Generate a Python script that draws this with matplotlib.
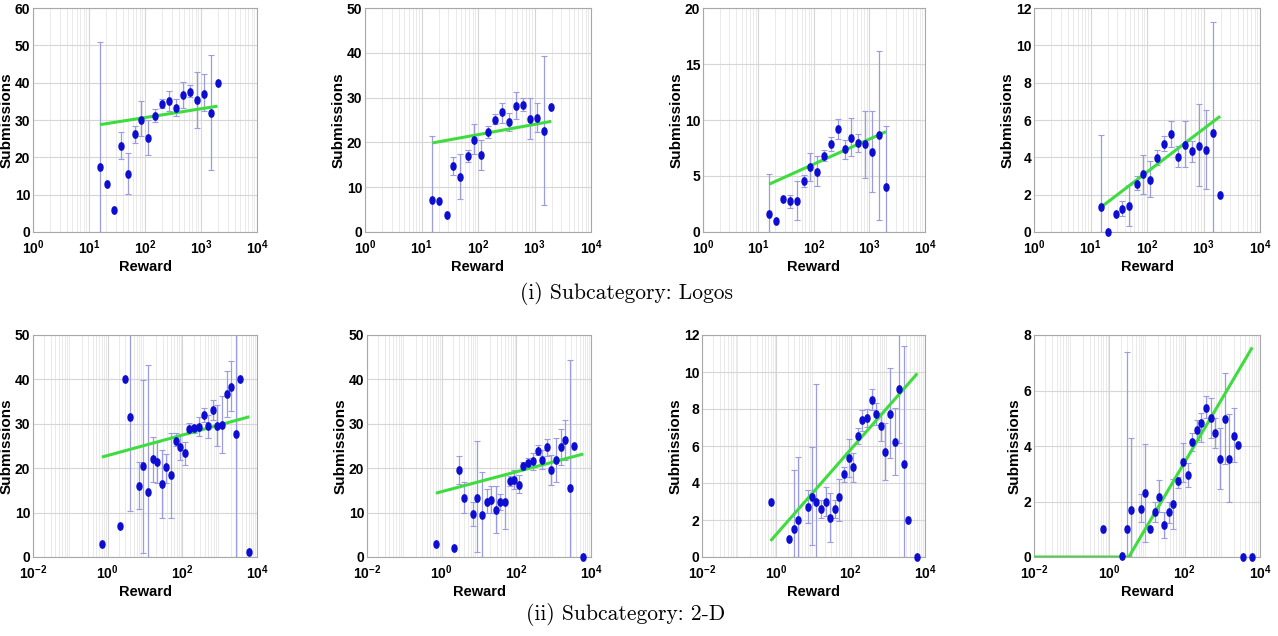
import numpy as np
import matplotlib
matplotlib.use('Agg')
import matplotlib.pyplot as plt
from matplotlib.path import Path
from matplotlib.ticker import FuncFormatter, LogLocator, NullFormatter, FixedLocator

nan = np.nan

# ---------------- data ----------------
reward_logos = [15.6, 20.8, 27.9, 36.6, 49.0, 65.3, 85.9, 115, 153, 204, 269, 359,
                473, 631, 841, 1109, 1479, 1977]
reward_2d = [0.70, 2.17, 2.90, 3.87, 6.90, 9.02, 12.0, 16.1, 21.4, 28.6, 37.4, 49.9,
             66.7, 88.9, 119, 155, 207, 277, 369, 492, 644, 859, 1148, 1531, 2042,
             2673, 3565, 6223]

# Logos, panel 1
p1_mean = [17.3, 12.9, 6.0, 23.1, 15.5, 26.3, 30.0, 25.3, 31.1, 34.2, 35.0, 33.2, 36.6, 37.6, 35.3, 37.0, 31.9, 39.9]
p1_lo = [0, nan, nan, 19.6, 10.2, 23.8, 25.6, 20.5, 29.4, 33.1, 32.5, 31.0, 33.2, 36.1, 27.8, 32.4, 16.5, nan]
p1_hi = [50.8, nan, nan, 26.7, 21.1, 28.5, 35.0, 30.1, 32.9, 35.6, 37.9, 35.7, 40.3, 39.5, 42.9, 42.2, 47.4, nan]
# Logos, panel 2
p2_mean = [7.2, 7.0, 3.9, 14.7, 12.3, 17.0, 20.6, 17.1, 22.4, 25.1, 26.7, 24.6, 28.1, 28.4, 25.3, 25.5, 22.6, 27.9]
p2_lo = [0, nan, nan, 12.7, 7.4, 15.6, 17.5, 13.8, 21.0, 24.0, 24.4, 22.6, 25.2, 26.9, 20.8, 22.3, 6.1, nan]
p2_hi = [21.5, nan, nan, 16.7, 17.4, 18.4, 24.0, 20.5, 23.6, 26.3, 28.9, 26.5, 31.2, 30.0, 29.9, 28.8, 39.2, nan]
# Logos, panel 3
p3_mean = [1.64, 1.0, 2.98, 2.74, 2.74, 4.52, 5.77, 5.39, 6.82, 7.83, 9.2, 7.44, 8.42, 7.95, 7.83, 7.14, 8.69, 3.99]
p3_lo = [0, nan, nan, 2.14, 1.1, 4.0, 4.52, 4.08, 6.3, 7.2, 8.3, 6.52, 6.76, 7.14, 4.82, 3.57, 1.1, 0]
p3_hi = [5.18, nan, nan, 3.27, 4.52, 5.12, 7.05, 6.76, 7.35, 8.48, 10.1, 8.18, 10.18, 8.75, 10.83, 10.77, 16.2, 9.45]
# Logos, panel 4
p4_mean = [1.32, 0, 0.98, 1.23, 1.38, 2.59, 3.11, 2.8, 3.96, 4.73, 5.27, 4.02, 4.68, 4.32, 4.63, 4.38, 5.3, 1.96]
p4_lo = [0, nan, nan, 0.84, 0.34, 2.23, 2.05, 1.86, 3.57, 4.36, 4.57, 3.48, 3.48, 3.75, 2.45, 2.3, 0, nan]
p4_hi = [5.21, nan, nan, 1.64, 2.54, 2.98, 4.14, 3.82, 4.41, 5.16, 5.96, 4.59, 5.96, 4.86, 6.86, 6.52, 11.23, nan]

# 2-D, panel 5
p5_mean = [3.0, 7.05, 40.2, 31.6, 16.1, 20.4, 14.6, 22.0, 21.3, 16.4, 20.2, 18.4, 26.2, 24.7, 23.4, 28.9,
           29.1, 29.2, 32.0, 29.5, 33.1, 29.4, 29.7, 36.7, 38.2, 27.7, 40.2, 1.05]
p5_lo = [nan, nan, nan, 10.3, 10.8, 0.9, 0, 16.9, 16.6, 8.8, 16.6, 8.8, 24.9, 21.9, 20.8, 27.9,
         28.0, 27.3, 30.5, 26.8, 30.9, 24.9, 23.5, 31.6, 32.8, 0, nan, nan]
p5_hi = [nan, nan, nan, 60, 21.4, 39.9, 43.3, 27.1, 25.8, 24.1, 23.2, 27.9, 27.9, 27.5, 26.0, 30.1,
         29.8, 31.6, 33.5, 32.0, 35.4, 34.3, 36.3, 42.0, 44.2, 60, nan, nan]
# 2-D, panel 6
p6_mean = [3.0, 1.95, 19.6, 13.3, 9.7, 13.4, 9.5, 12.4, 12.9, 10.5, 12.4, 12.5, 17.2, 17.4, 16.3, 20.4,
           21.1, 21.6, 23.9, 21.8, 24.7, 19.6, 21.9, 24.8, 26.4, 15.5, 25.0, 0.0]
p6_lo = [nan, nan, 16.5, 9.9, 7.0, 1.05, 0, 9.9, 10.0, 5.4, 10.6, 6.3, 16.0, 15.3, 14.5, 19.5,
         20.0, 19.6, 22.9, 19.8, 22.8, 16.3, 16.8, 20.8, 21.9, 0, nan, nan]
p6_hi = [nan, nan, 22.8, 17.0, 12.5, 26.2, 19.1, 15.3, 15.9, 15.9, 14.2, 18.7, 18.3, 19.5, 18.4, 21.3,
         22.4, 23.5, 25.3, 24.1, 26.6, 23.0, 26.8, 28.9, 30.9, 44.4, nan, nan]
# 2-D, panel 7
p7_mean = [3.0, 0.99, 1.51, 2.0, 2.7, 3.24, 3.0, 2.59, 3.0, 2.1, 2.59, 3.27, 4.5, 5.34, 4.84, 6.55,
           7.38, 7.5, 8.49, 7.74, 7.09, 5.7, 7.74, 6.21, 9.07, 5.02, 2.0, 0.0]
p7_lo = [nan, nan, 0, 0, 1.83, 0.67, 0, 2.1, 2.2, 0.79, 2.1, 1.93, 4.08, 4.35, 4.08, 6.12,
         6.82, 7.05, 7.92, 7.14, 6.28, 4.17, 5.34, 4.44, 6.15, 0, nan, nan]
p7_hi = [nan, nan, 4.71, 5.43, 3.63, 5.92, 9.34, 3.09, 3.76, 3.45, 3.09, 4.21, 4.89, 6.37, 5.61, 7.0,
         7.92, 7.99, 9.07, 8.35, 7.77, 7.23, 10.24, 8.04, 12.0, 11.4, nan, nan]
# 2-D, panel 8
p8_mean = [1.02, 0.02, 1.02, 1.70, 1.74, 2.3, 1.02, 1.61, 2.18, 1.14, 1.61, 1.91, 2.75, 3.41, 2.96, 4.14,
           4.57, 4.82, 5.38, 5.0, 4.46, 3.54, 4.96, 3.54, 4.36, 4.04, 0, 0]
p8_lo = [nan, nan, 0, 0, 1.25, 0.53, nan, 1.25, 1.61, 0.68, 1.22, 1.0, 2.48, 2.69, 2.52, 3.82,
         4.22, 4.16, 5.0, 4.28, 3.92, 2.45, 3.35, 1.97, 3.41, nan, nan, nan]
p8_hi = [nan, nan, 7.37, 4.28, 2.28, 4.06, nan, 2.0, 2.78, 1.61, 2.0, 2.81, 2.9, 4.1, 3.38, 4.46,
         4.94, 5.2, 5.8, 5.72, 5.0, 4.64, 6.64, 5.14, 5.36, nan, nan, nan]

# linear fit in log10(reward): y = a + b*log10(x)
fit_a = [25.94, 17.15, 1.613, -1.41, 22.86, 14.72, 1.226, -1.192]
fit_b = [2.355, 2.29, 2.228, 2.31, 2.30, 2.235, 2.292, 2.305]
fit_from = [None, None, None, None, None, None, None, 0.01]
fit_floor = [None, None, None, None, None, None, None, 0.0]

y_max = [60, 50, 20, 12, 50, 50, 12, 8]
y_step = [10, 10, 5, 2, 10, 10, 2, 2]
x_lim_logos = (1, 1e4)
x_lim_2d = (1e-2, 1e4)

captions = ['(i) Subcategory: Logos', '(ii) Subcategory: 2-D']

# ---------------- style ----------------
plt.rcParams['font.family'] = ['Liberation Sans', 'DejaVu Sans']
plt.rcParams['mathtext.fontset'] = 'custom'
plt.rcParams['mathtext.bf'] = 'Liberation Sans:bold'
plt.rcParams['mathtext.rm'] = 'Liberation Sans'

W, H = 1278, 636
fig = plt.figure(figsize=(W / 100, H / 100), dpi=100)

# axes boxes in pixels: (left, right, top, bottom)
boxes = [(33, 257, 8, 232), (365, 591, 8, 232), (703, 925, 8, 232), (1034, 1260, 8, 232),
         (33, 257, 335, 557), (367, 591, 335, 557), (702, 925, 335, 557), (1034, 1260, 335, 557)]

panels = [(reward_logos, p1_mean, p1_lo, p1_hi), (reward_logos, p2_mean, p2_lo, p2_hi),
          (reward_logos, p3_mean, p3_lo, p3_hi), (reward_logos, p4_mean, p4_lo, p4_hi),
          (reward_2d, p5_mean, p5_lo, p5_hi), (reward_2d, p6_mean, p6_lo, p6_hi),
          (reward_2d, p7_mean, p7_lo, p7_hi), (reward_2d, p8_mean, p8_lo, p8_hi)]

circ = Path.unit_circle()
ell = Path(circ.vertices * np.array([0.68, 1.0]), circ.codes)

dot_color = '#0c0cd2'
err_color = '#9c9ce0'
cap_color = '#6a6a7a'
fit_color = '#3fdc3f'


def logfmt(v, pos):
    return r'$\mathbf{10^{%d}}$' % int(round(np.log10(v)))


for i, ((xr, ym, ylo, yhi), (l, r, t, b)) in enumerate(zip(panels, boxes)):
    ax = fig.add_axes([l / W, 1 - b / H, (r - l) / W, (b - t) / H])
    x = np.array(xr, float)
    y = np.array(ym, float)
    lo = np.array(ylo, float)
    hi = np.array(yhi, float)

    ax.set_xscale('log')
    if i < 4:
        ax.set_xlim(*x_lim_logos)
        ax.xaxis.set_major_locator(FixedLocator([1, 10, 100, 1000, 10000]))
    else:
        ax.set_xlim(*x_lim_2d)
        ax.xaxis.set_major_locator(FixedLocator([1e-2, 1, 100, 1e4]))
    ax.xaxis.set_minor_locator(LogLocator(base=10, subs=np.arange(2, 10), numticks=50))
    ax.xaxis.set_minor_formatter(NullFormatter())
    ax.xaxis.set_major_formatter(FuncFormatter(logfmt))
    ax.set_ylim(0, y_max[i])
    ax.set_yticks(np.arange(0, y_max[i] + 0.1, y_step[i]))

    ax.grid(True, which='major', color='#d6d6d6', lw=0.8)
    ax.grid(True, which='minor', axis='x', color='#e6e6e6', lw=0.6)
    ax.set_axisbelow(True)
    for s in ax.spines.values():
        s.set_color('#a8a8a8')
        s.set_linewidth(0.8)
    ax.tick_params(which='both', direction='in', length=0, labelsize=10)
    ax.tick_params(axis='x', pad=4.5)
    ax.tick_params(axis='y', pad=2)
    for lab in ax.get_yticklabels():
        lab.set_fontweight('bold')

    m = ~np.isnan(lo)
    if m.any():
        _, caps, _ = ax.errorbar(x[m], y[m], yerr=[y[m] - lo[m], hi[m] - y[m]], fmt='none',
                                 ecolor=err_color, elinewidth=0.9, capsize=2.2, capthick=0.8,
                                 zorder=2)
        for c in caps:
            c.set_color(cap_color)

    x0 = fit_from[i] if fit_from[i] is not None else x[0]
    xs = np.logspace(np.log10(x0), np.log10(x[-1]), 300)
    ys = fit_a[i] + fit_b[i] * np.log10(xs)
    if fit_floor[i] is not None:
        ys = np.maximum(ys, fit_floor[i])
    ax.plot(xs, ys, color=fit_color, lw=2.2, zorder=3, solid_capstyle='butt')

    ax.plot(x, y, ls='none', marker=ell, ms=5.3, color=dot_color, mec=dot_color,
            zorder=4, clip_on=False)

    ax.set_xlabel('Reward', fontweight='bold', fontsize=10.5,
                  family=['Liberation Sans Narrow', 'Liberation Sans'], labelpad=2)
    ax.set_ylabel('Submissions', fontweight='bold', fontsize=11, labelpad=1)

fig.text(626 / W, 1 - 299 / H, captions[0], family='cmr10', fontsize=15.5,
         ha='center', va='baseline')
fig.text(626 / W, 1 - 620 / H, captions[1], family='cmr10', fontsize=15.5,
         ha='center', va='baseline')

fig.savefig('out.png', dpi=100, facecolor='white')
